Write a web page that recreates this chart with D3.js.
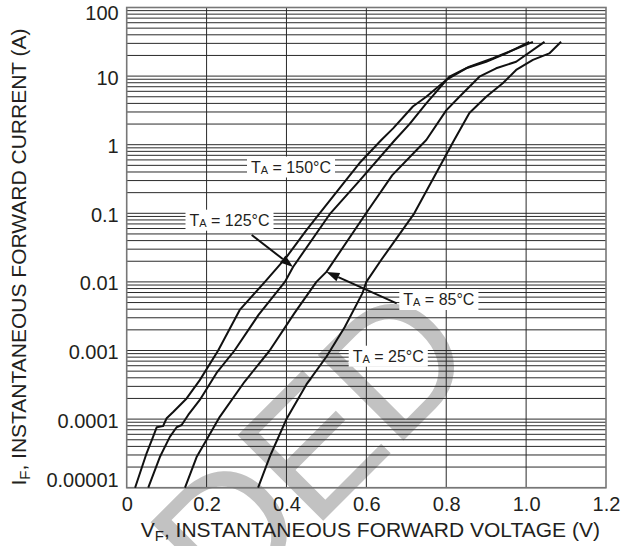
<!DOCTYPE html>
<html>
<head>
<meta charset="utf-8">
<script src="https://cdn.jsdelivr.net/npm/d3@7"></script>
<style>
  html, body { margin: 0; padding: 0; background: #fff; }
  svg { display: block; font-family: "Liberation Sans", Arial, Helvetica, sans-serif; }
</style>
</head>
<body>
<svg id="chart" width="632" height="546"></svg>
<script>
// Axis ticks
const xTickValues = [0, 0.2, 0.4, 0.6, 0.8, 1.0, 1.2];
const xTickLabels = ["0", "0.2", "0.4", "0.6", "0.8", "1.0", "1.2"];
const yTickValues = [1e-5, 1e-4, 1e-3, 1e-2, 1e-1, 1, 10, 100];
const yTickLabels = ["0.00001", "0.0001", "0.001", "0.01", "0.1", "1", "10", "100"];

// Forward characteristics: [V_F (V), I_F (A)]
const curve150 = [[0.021,1e-5],[0.05,3.2e-5],[0.066,5.5e-5],[0.075,7.6e-5],[0.091,7.9e-5],[0.1,1.03e-4],
  [0.117,1.28e-4],[0.15,2.0e-4],[0.183,3.7e-4],[0.229,1e-3],[0.283,3.9e-3],[0.346,1e-2],[0.4,2.3e-2],
  [0.45,5.7e-2],[0.483,0.1],[0.55,0.31],[0.583,0.54],[0.6375,1.17],[0.667,1.73],[0.7165,3.6],[0.75,5.0],
  [0.8,8.8],[0.85,13.0],[0.9,16.2],[0.95,21.4],[1.008,31.6]];
const curve125 = [[0.054,1e-5],[0.083,2.8e-5],[0.108,5.5e-5],[0.125,7.6e-5],[0.1375,8.2e-5],[0.154,1.15e-4],
  [0.183,1.9e-4],[0.225,4.7e-4],[0.27,1e-3],[0.33,3.3e-3],[0.396,1e-2],[0.4165,1.65e-2],[0.51,0.1],
  [0.583,0.3],[0.671,1.16],[0.708,2.0],[0.75,4.0],[0.808,9.8],[0.858,13.7],[0.917,18.2],[1.017,31.6]];
const curve85 = [[0.146,1e-5],[0.175,2.8e-5],[0.2,5e-5],[0.233,1.08e-4],[0.295,3.5e-4],[0.358,1e-3],
  [0.42,3.5e-3],[0.475,1e-2],[0.5,1.4e-2],[0.604,0.11],[0.665,0.36],[0.75,1.17],[0.8,3.16],[0.833,5.0],
  [0.883,9.8],[0.925,13.0],[0.975,16.2],[1.046,31.6]];
const curve25 = [[0.329,1e-5],[0.36,3e-5],[0.4,1e-4],[0.45,3.2e-4],[0.5,8.1e-4],[0.546,2.2e-3],
  [0.59,6.8e-3],[0.6,1e-2],[0.6375,2.1e-2],[0.72,0.1],[0.82,1.17],[0.858,2.9],[0.9,5.0],[0.9415,7.85],
  [0.975,12.3],[1.017,17.2],[1.058,21.4],[1.0875,31.6]];
const curveLabels = ["150", "125", "85", "25"];

const svg = d3.select("#chart");
const plotL = 126.7, plotR = 606, plotT = 7.5, plotB = 487.7;
const ink = "#231f20";

const x = d3.scaleLinear().domain([0, 1.2]).range([plotL, plotR]);
const y = d3.scaleLog().domain([1e-5, 100]).range([plotB, plotT]);

// Background watermark (the visible tail of the stamp)
svg.append("text")
  .attr("transform", "translate(226,618) rotate(-45)")
  .attr("font-size", 176)
  .attr("letter-spacing", -4)
  .attr("fill", "#c2c2c2")
  .text("DED");

// Horizontal grid, nine lines per decade
const yGrid = [];
for (let e = -5; e < 2; e++) for (let k = 1; k <= 9; k++) yGrid.push(k * Math.pow(10, e));
yGrid.push(100);
svg.append("g")
  .selectAll("line").data(yGrid).join("line")
  .attr("x1", plotL).attr("x2", plotR)
  .attr("y1", d => y(d)).attr("y2", d => y(d))
  .attr("stroke", "#2a2a2a").attr("stroke-width", 1);

// Vertical grid
svg.append("g")
  .selectAll("line").data(xTickValues.slice(1, -1)).join("line")
  .attr("x1", d => x(d)).attr("x2", d => x(d))
  .attr("y1", plotT).attr("y2", plotB)
  .attr("stroke", "#2a2a2a").attr("stroke-width", 1);

// Frame
svg.append("rect")
  .attr("x", plotL).attr("y", plotT)
  .attr("width", plotR - plotL).attr("height", plotB - plotT)
  .attr("fill", "none").attr("stroke", "#777").attr("stroke-width", 1.6);

// Axes (labels only)
const xAxis = d3.axisBottom(x).tickValues(xTickValues)
  .tickFormat((d, i) => xTickLabels[i]).tickSize(0).tickPadding(0);
const gx = svg.append("g").attr("transform", `translate(0,${plotB})`).call(xAxis);
gx.select(".domain").remove();
gx.selectAll("text").attr("font-size", 20).attr("fill", ink)
  .attr("font-family", "Liberation Sans, Arial, sans-serif")
  .attr("dy", null).attr("y", 23);

const yAxis = d3.axisLeft(y).tickValues(yTickValues)
  .tickFormat((d, i) => yTickLabels[i]).tickSize(0).tickPadding(0);
const gy = svg.append("g").attr("transform", `translate(${plotL - 8},0)`).call(yAxis);
gy.select(".domain").remove();
// end labels sit inside the frame: bottom one raised, top one lowered
const lastTick = yTickValues.length - 1;
gy.selectAll("text").attr("font-size", 20).attr("fill", ink)
  .attr("font-family", "Liberation Sans, Arial, sans-serif")
  .attr("dy", null)
  .attr("y", (d, i) => i === 0 ? -1 : i === lastTick ? 12 : 8);

// Axis titles
const xt = svg.append("text").attr("x", (plotL + plotR) / 2 + 4).attr("y", 536.5)
  .attr("text-anchor", "middle").attr("font-size", 21).attr("fill", ink);
xt.append("tspan").text("V");
xt.append("tspan").attr("font-size", 15).attr("dy", 4).text("F");
xt.append("tspan").attr("dy", -4).text(", INSTANTANEOUS FORWARD VOLTAGE (V)");

const yt = svg.append("text").attr("transform", "translate(26,257) rotate(-90)")
  .attr("text-anchor", "middle").attr("font-size", 21).attr("fill", ink);
yt.append("tspan").text("I");
yt.append("tspan").attr("font-size", 15).attr("dy", 4).text("F");
yt.append("tspan").attr("dy", -4).text(", INSTANTANEOUS FORWARD CURRENT (A)");

// Curves
const line = d3.line().x(d => x(d[0])).y(d => y(d[1]));
svg.append("g").selectAll("path")
  .data([curve150, curve125, curve85, curve25]).join("path")
  .attr("d", line).attr("fill", "none")
  .attr("stroke", "#111").attr("stroke-width", 2).attr("stroke-linejoin", "round");

// Annotations
function tempLabel(px, py, t) {
  const g = svg.append("g");
  const rect = g.append("rect").attr("fill", "#fff");
  const txt = g.append("text").attr("x", px).attr("y", py)
    .attr("font-size", 16).attr("fill", ink);
  txt.append("tspan").text("T");
  txt.append("tspan").attr("font-size", 11).attr("dy", 1).text("A");
  txt.append("tspan").attr("dy", -1).text(" = " + t + "°C");
  const b = txt.node().getBBox();
  rect.attr("x", b.x - 4).attr("y", b.y - 2).attr("width", b.width + 8).attr("height", b.height + 4);
}
function arrow(x0, y0, x1, y1) {
  const ang = Math.atan2(y1 - y0, x1 - x0);
  const L = 13, Wd = 4.5;
  const bx = x1 - L * Math.cos(ang), by = y1 - L * Math.sin(ang);
  svg.append("line").attr("x1", x0).attr("y1", y0).attr("x2", bx).attr("y2", by)
    .attr("stroke", "#111").attr("stroke-width", 2);
  const px = -Math.sin(ang) * Wd, py = Math.cos(ang) * Wd;
  svg.append("path")
    .attr("d", `M${x1},${y1}L${bx + px},${by + py}L${bx - px},${by - py}Z`)
    .attr("fill", "#111");
}
tempLabel(251, 172.5, curveLabels[0]);
tempLabel(189.5, 225.7, curveLabels[1]);
tempLabel(403.3, 305, curveLabels[2]);
tempLabel(352.7, 361.7, curveLabels[3]);
arrow(251.7, 235, x(0.4165), y(0.0165));
arrow(396.7, 303.3, x(0.5), y(0.014));
</script>
</body>
</html>
